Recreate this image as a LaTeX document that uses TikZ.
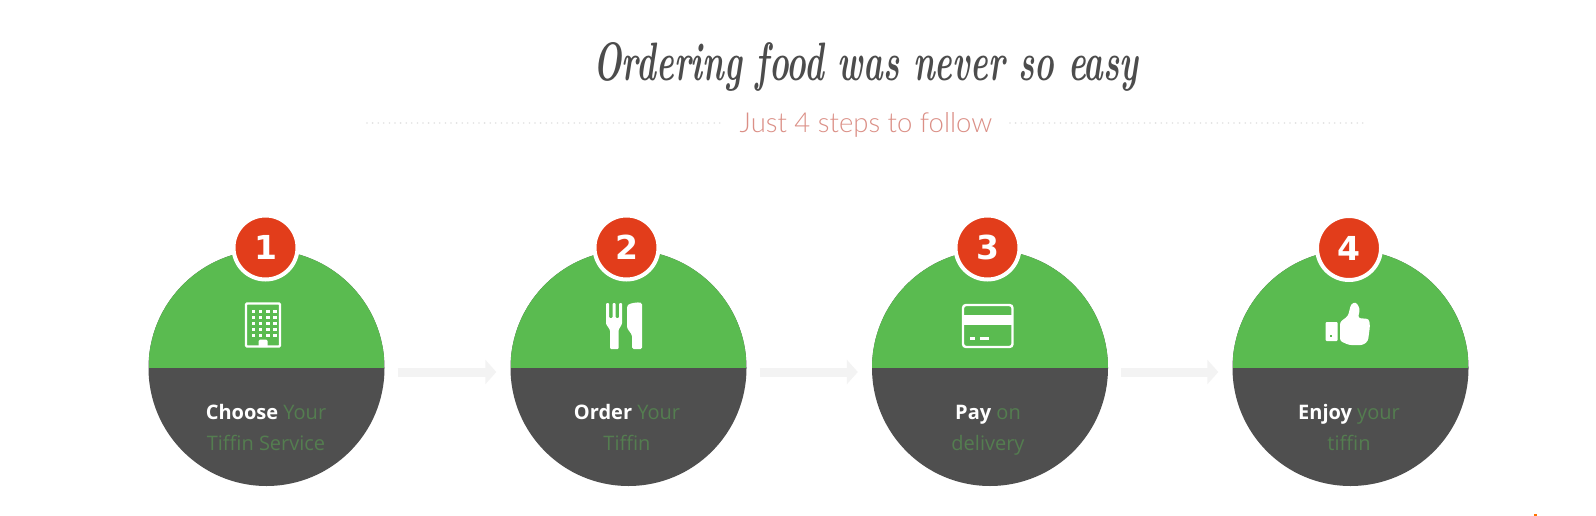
\documentclass[tikz,border=0pt]{standalone}
\usepackage{fontspec}
\setmainfont{Open Sans}
\newfontfamily\digitfont{DejaVu Sans}
\newfontfamily\subfont{Lato Light}
\newfontfamily\headfont{Latin Modern Roman}
\usetikzlibrary{arrows.meta}
\definecolor{stepgreen}{HTML}{5ABB50}
\definecolor{stepdark}{HTML}{4F4F4F}
\definecolor{stepred}{HTML}{E23D1B}
\definecolor{dimgreen}{HTML}{547D50}
\definecolor{titlegray}{HTML}{4C4C4C}
\definecolor{subred}{HTML}{DB8F86}
\definecolor{arrowgray}{HTML}{F3F3F3}
\definecolor{dotgray}{HTML}{E2E2E2}
\tikzset{
  stepdisc/.style={circle,minimum size=236pt,inner sep=0pt,fill=stepdark,
    path picture={\fill[stepgreen] (path picture bounding box.north west) rectangle (path picture bounding box.east);}},
  badge/.style={circle,minimum size=64pt,inner sep=0pt,fill=stepred,draw=white,line width=4pt,text=white,
    font=\digitfont\bfseries\fontsize{33}{33}\selectfont},
  steplabel/.style={align=center,text=dimgreen,font=\fontsize{20}{31}\selectfont},
  flowarrow/.style={arrowgray,line width=9pt,-{Triangle[length=11pt,width=24pt]},shorten <=13pt,shorten >=14pt},
  dotrule/.style={dotgray,line width=1.8pt,line cap=round,dash pattern=on 0pt off 5.6pt},
  iconline/.style={white,line width=2.4pt}
}
\newcommand{\stepword}[1]{\textcolor{white}{\bfseries #1}}
\begin{document}
\begin{tikzpicture}[x=1pt,y=-1pt]
\useasboundingbox (0,0) rectangle (1596,516);
\fill[white] (0,0) rectangle (1596,516);

% heading
\node[inner sep=0pt,anchor=base] (title) at (866,81) {\textcolor{titlegray}{\resizebox{545pt}{38pt}{\headfont\bfseries\itshape Ordering food was never so easy}}};
\node[text=subred,font=\subfont\fontsize{27.5}{27.5}\selectfont] (sub) at (866,125) {Just 4 steps to follow};
\coordinate (ruleL) at (367,123);
\coordinate (ruleR) at (1365,123);
\draw[dotrule] (ruleL) -- (722,123);
\draw[dotrule] (1010,123) -- (ruleR);

% discs
\node[stepdisc] (c1) at (266.5,368) {};
\node[stepdisc] (c2) at (628.5,368) {};
\node[stepdisc] (c3) at (990,368) {};
\node[stepdisc] (c4) at (1350.5,368) {};

% arrows
\draw[flowarrow] ([yshift=-4pt]c1.east) -- ([yshift=-4pt]c2.west);
\draw[flowarrow] ([yshift=-4pt]c2.east) -- ([yshift=-4pt]c3.west);
\draw[flowarrow] ([yshift=-4pt]c3.east) -- ([yshift=-4pt]c4.west);

% badges
\node[badge] (b1) at (265.5,247.5) {1};
\node[badge] (b2) at (626.5,247.5) {2};
\node[badge] (b3) at (987.5,247.5) {3};
\node[badge] (b4) at (1349,248) {4};

% labels
\node[steplabel] (l1) at (266,428.5) {\strut\stepword{Choose} Your\\\strut Tiffin Service};
\node[steplabel] (l2) at (627,428.5) {\strut\stepword{Order} Your\\\strut Tiffin};
\node[steplabel] (l3) at (988,428.5) {\strut\stepword{Pay} on\\\strut delivery};
\node[steplabel] (l4) at (1349,428.5) {\strut\stepword{Enjoy} your\\\strut tiffin};

% icon 1: building
\draw[iconline,rounded corners=1pt] (246,303.5) rectangle (280,346.5);
\foreach \r in {0,...,4}{\foreach \k in {0,...,3}{
  \fill[white] (251.5+7.2*\k,309.5+6*\r) rectangle +(3.6,3);}}
\fill[white] (258.5,347) -- (258.5,341) -- (260,339.5) -- (266,339.5) -- (267.5,341) -- (267.5,347) -- cycle;

% icon 2: fork and knife
\fill[white,rounded corners=1pt] (606,303) -- (609,303) -- (609,318) -- (612.5,318) -- (612.5,303) -- (615.5,303) -- (615.5,318) -- (619,318) -- (619,303) -- (622,303) -- (622,324) -- (618.5,330) -- (618.5,349) -- (610,349) -- (610,330) -- (606,324) -- cycle;
\fill[white,rounded corners=1.5pt] (627,306) .. controls (630,303) and (638,302) .. (642,303) -- (642,349) -- (632,349) -- (632,335) -- (627,328) -- cycle;

% icon 3: card
\draw[white,line width=2.4pt,rounded corners=3pt] (963,305) rectangle (1012.5,347);
\fill[white] (963,315) rectangle (1012.5,325);
\fill[white] (970,336.5) rectangle (975,339.5);
\fill[white] (980,336.5) rectangle (989,339.5);

% icon 4: thumb up
\fill[white,rounded corners=1pt] (1325.5,322) rectangle (1337.5,341);
\fill[stepgreen] (1329.5,335) rectangle (1331.5,337);
\fill[white,rounded corners=2.5pt] (1340,322) -- (1348,316) -- (1351,304) -- (1356,302) -- (1360,309) -- (1358,318) -- (1369,319) -- (1370,326) -- (1368,341) -- (1363,345) -- (1349,345) -- (1340,341) -- cycle;

% stray mark bottom right
\fill[orange!90!red] (1533.5,514) rectangle (1537,516);
\end{tikzpicture}
\end{document}
